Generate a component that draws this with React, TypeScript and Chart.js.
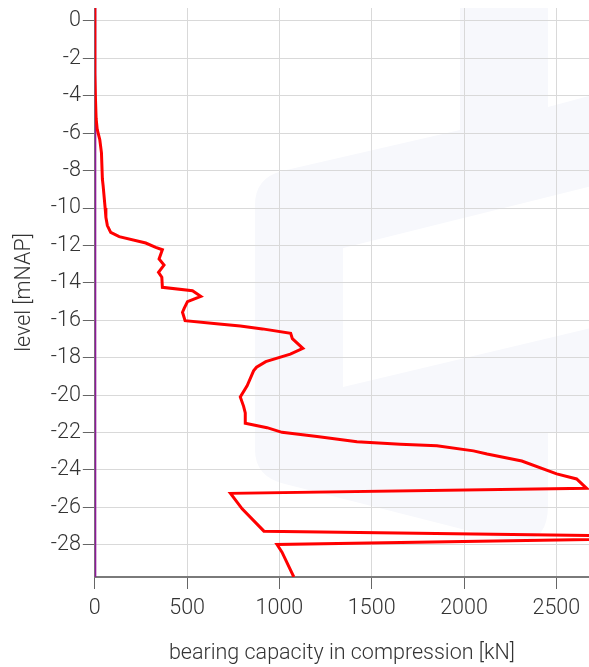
import React, { useEffect, useRef } from "react";
import { Chart, registerables } from "chart.js";

Chart.register(...registerables);

// Bearing capacity in compression [kN] vs level [mNAP]
const capacityValues = [
  0, 0, 3, 7, 13, 27, 36, 41, 45, 56, 60, 68, 86, 132, 276, 330, 366, 348, 375, 345, 363, 366,
  529, 574, 502, 484, 475, 489, 673, 788, 908, 1061, 1070, 1127, 1059, 926, 876, 860, 825, 788,
  806, 815, 815, 933, 1014, 1204, 1420, 1655, 1853, 2051, 2125, 2313, 2502, 2610, 2664,
  735, 798, 916, 3400, 987, 1014, 1078,
];
const capacityLevels = [
  0.7, -2.8, -4.0, -5.2, -5.8, -6.35, -7.05, -8.45, -8.8, -10.0, -10.5, -10.94, -11.3, -11.53,
  -11.87, -12.1, -12.23, -12.72, -13.05, -13.44, -13.7, -14.24, -14.42, -14.72, -15.0, -15.36,
  -15.57, -16.02, -16.2, -16.3, -16.46, -16.7, -16.98, -17.5, -17.81, -18.21, -18.51, -18.7,
  -19.5, -20.1, -20.6, -20.95, -21.5, -21.74, -21.99, -22.21, -22.49, -22.62, -22.7, -22.98,
  -23.15, -23.52, -24.21, -24.48, -24.98, -25.25, -26.08, -27.27, -27.6, -27.98, -28.39, -29.72,
];

// Second series: zero line over the whole depth
const zeroLevels = [0.7, -29.72];
const zeroValues = [0, 0];

const xTickValues = [0, 500, 1000, 1500, 2000, 2500];
const yTickValues = [0, -2, -4, -6, -8, -10, -12, -14, -16, -18, -20, -22, -24, -26, -28];
const xMin = 0;
const xMax = 2677;
const yMin = -29.72;
const yMax = 0.69;

const xTitle = "bearing capacity in compression [kN]";
const yTitle = "level [mNAP]";

const watermarkPlugin = {
  id: "watermark",
  beforeDraw(chart: any) {
    const ctx = chart.ctx as CanvasRenderingContext2D;
    ctx.save();
    ctx.translate(-8, -8);
    ctx.fillStyle = "#f7f8fc";
    ctx.beginPath();
    ctx.moveTo(255, 205);
    ctx.quadraticCurveTo(255, 178, 282, 171);
    ctx.lineTo(460, 130);
    ctx.lineTo(460, 0);
    ctx.lineTo(548, 0);
    ctx.lineTo(548, 107);
    ctx.lineTo(600, 93);
    ctx.lineTo(600, 184);
    ctx.lineTo(343, 248);
    ctx.lineTo(343, 387);
    ctx.lineTo(600, 326);
    ctx.lineTo(600, 433);
    ctx.lineTo(548, 433);
    ctx.lineTo(548, 505);
    ctx.quadraticCurveTo(548, 550, 505, 540);
    ctx.lineTo(285, 484);
    ctx.quadraticCurveTo(255, 477, 255, 450);
    ctx.closePath();
    ctx.fill();
    ctx.restore();
  },
};

export default function App() {
  const ref = useRef<HTMLCanvasElement | null>(null);

  useEffect(() => {
    if (!ref.current) return;
    const font = { family: "Roboto", size: 21.5, weight: "300" as any };
    const chart = new Chart(ref.current, {
      type: "scatter",
      data: {
        datasets: [
          {
            label: "capacity",
            data: capacityValues.map((v, i) => ({ x: v, y: capacityLevels[i] })),
            showLine: true,
            borderColor: "#ff0000",
            borderWidth: 3,
            pointRadius: 0,
            tension: 0,
          },
          {
            label: "zero",
            data: zeroValues.map((v, i) => ({ x: v, y: zeroLevels[i] })),
            showLine: true,
            borderColor: "#8e1a99",
            borderWidth: 3,
            pointRadius: 0,
          },
        ],
      },
      options: {
        animation: false,
        responsive: false,
        maintainAspectRatio: false,
        layout: { padding: 0 },
        plugins: {
          legend: { display: false },
          tooltip: { enabled: false },
        },
        scales: {
          x: {
            type: "linear",
            min: xMin,
            max: xMax,
            afterBuildTicks: (scale: any) => {
              scale.ticks = xTickValues.map((v) => ({ value: v }));
            },
            afterFit: (scale: any) => {
              scale.paddingLeft = 0;
              scale.paddingRight = 0;
            },
            ticks: {
              color: "#333",
              font,
              padding: 7,
              maxRotation: 0,
              autoSkip: false,
              callback: (v: any) => String(v),
            },
            grid: {
              color: "#d9d9d9",
              tickColor: "#666",
              tickLength: 12,
              lineWidth: 1,
            },
            border: { display: true, color: "#7a7a7a", width: 2 },
            title: {
              display: true,
              text: xTitle,
              color: "#333",
              font,
              padding: { top: 12.4, bottom: 0 },
            },
          },
          y: {
            type: "linear",
            min: yMin,
            max: yMax,
            afterBuildTicks: (scale: any) => {
              scale.ticks = yTickValues.map((v) => ({ value: v }));
            },
            afterFit: (scale: any) => {
              scale.paddingTop = 0;
              scale.paddingBottom = 0;
            },
            ticks: {
              color: "#333",
              font,
              padding: 2,
              autoSkip: false,
              callback: (v: any) => String(v),
            },
            grid: {
              color: "#d9d9d9",
              tickColor: "#666",
              tickLength: 12,
              lineWidth: 1,
            },
            border: { display: true, color: "#7a7a7a", width: 2 },
            title: {
              display: true,
              text: yTitle,
              color: "#333",
              font,
              padding: { top: 4, bottom: 11 },
            },
          },
        },
      },
      plugins: [watermarkPlugin],
    });
    return () => chart.destroy();
  }, []);

  return (
    <div style={{ position: "absolute", left: 8, top: 8, width: 581, height: 659 }}>
      <canvas ref={ref} width={581} height={659} style={{ display: "block" }} />
    </div>
  );
}
